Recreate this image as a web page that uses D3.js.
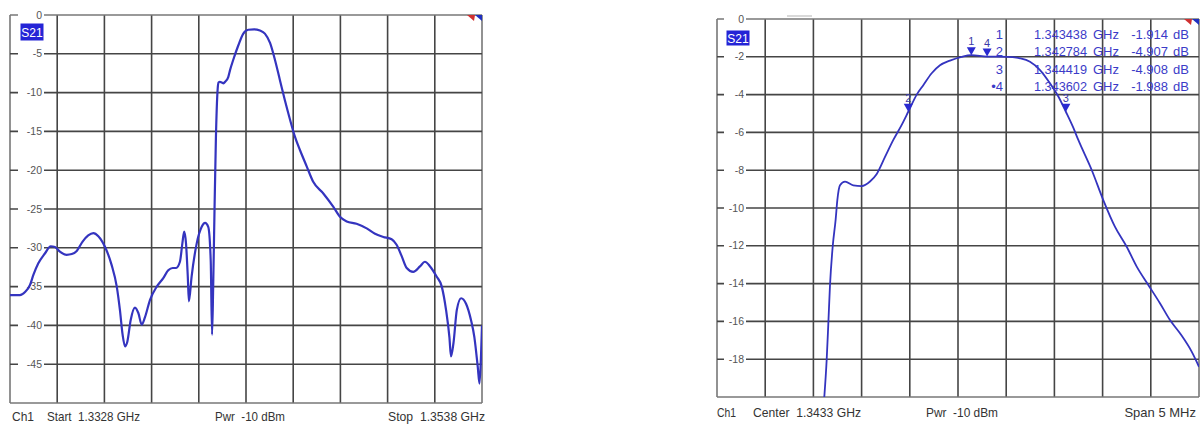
<!DOCTYPE html>
<html><head><meta charset="utf-8">
<script src="https://cdn.jsdelivr.net/npm/d3@7"></script>
<style>body{margin:0;background:#fff}svg{display:block}text{font-family:"Liberation Sans",Arial,sans-serif}</style>
</head><body><svg id="c" width="1200" height="424"></svg>
<script>
// ---------- data ----------
const leftFreqGHz = [1.33280,1.33324,1.33347,1.33369,1.33384,1.33406,1.33436,1.33461,1.33480,1.33502,1.33532,1.33555,1.33577,1.33603,1.33628,1.33651,1.33673,1.33703,1.33732,1.33755,1.33769,1.33781,1.33792,1.33802,1.33817,1.33836,1.33851,1.33866,1.33881,1.33903,1.33933,1.33962,1.33984,1.34004,1.34019,1.34036,1.34047,1.34055,1.34063,1.34071,1.34076,1.34088,1.34111,1.34133,1.34148,1.34162,1.34173,1.34179,1.34184,1.34190,1.34196,1.34204,1.34208,1.34214,1.34222,1.34230,1.34237,1.34251,1.34259,1.34273,1.34296,1.34318,1.34340,1.34366,1.34392,1.34414,1.34437,1.34459,1.34481,1.34503,1.34526,1.34548,1.34570,1.34600,1.34629,1.34674,1.34718,1.34748,1.34778,1.34822,1.34867,1.34904,1.34941,1.34978,1.35000,1.35023,1.35045,1.35074,1.35104,1.35126,1.35149,1.35178,1.35201,1.35220,1.35235,1.35242,1.35253,1.35268,1.35287,1.35309,1.35331,1.35346,1.35361,1.35369,1.35376,1.35380];
const leftS21 = [-36.1,-36.1,-35.7,-34.8,-33.5,-32.0,-30.7,-29.8,-29.9,-30.5,-30.9,-30.8,-30.4,-29.2,-28.4,-28.1,-28.5,-29.9,-32.2,-35.0,-38.0,-41.2,-42.7,-42.1,-39.3,-37.7,-38.4,-39.9,-38.9,-36.7,-35.0,-33.9,-32.9,-32.6,-32.6,-31.8,-29.4,-27.9,-29.4,-33.7,-36.9,-33.7,-29.4,-27.3,-26.8,-27.3,-31.6,-41.2,-35.0,-25.0,-16.0,-9.5,-8.7,-8.6,-8.7,-8.8,-8.6,-8.0,-7.1,-5.8,-3.9,-2.4,-1.9,-1.85,-2.0,-2.4,-3.6,-5.8,-8.4,-11.0,-13.5,-15.7,-17.4,-19.5,-21.5,-23.0,-24.7,-26.0,-26.6,-26.9,-27.5,-28.2,-28.6,-28.9,-29.6,-31.1,-32.6,-33.1,-32.4,-31.8,-32.4,-33.7,-35.0,-38.0,-41.5,-44.0,-42.3,-38.0,-36.5,-37.2,-39.3,-41.5,-45.3,-47.5,-43.6,-40.0];

const rightFreqGHz = [1.341913,1.341938,1.341955,1.341972,1.342000,1.342031,1.342048,1.342076,1.342128,1.342214,1.342301,1.342387,1.342457,1.342543,1.342629,1.342716,1.342784,1.342872,1.342940,1.343027,1.343113,1.343217,1.343338,1.343438,1.343602,1.343805,1.343943,1.344047,1.344151,1.344254,1.344341,1.344419,1.344496,1.344548,1.344687,1.344807,1.344929,1.345050,1.345154,1.345274,1.345395,1.345499,1.345603,1.345724,1.345800];
const rightS21 = [-20.0,-18.0,-16.1,-14.1,-12.05,-10.6,-9.6,-8.8,-8.6,-8.8,-8.84,-8.6,-8.2,-7.3,-6.4,-5.6,-4.907,-4.0,-3.5,-2.87,-2.45,-2.2,-2.0,-1.914,-1.988,-2.0,-2.08,-2.26,-2.7,-3.4,-4.1,-4.908,-5.75,-6.4,-7.99,-9.58,-11.0,-12.05,-13.1,-14.07,-15.04,-15.93,-16.63,-17.6,-18.4];

const markerIds = ["1","2","3","4"];
const markerFreqGHz = [1.343438,1.342784,1.344419,1.343602];
const markerS21 = [-1.914,-4.907,-4.908,-1.988];
const markerFreqText = ["1.343438","1.342784","1.344419","1.343602"];
const markerValText = ["-1.914","-4.907","-4.908","-1.988"];

const leftYTicks = [0,-5,-10,-15,-20,-25,-30,-35,-40,-45];
const rightYTicks = [0,-2,-4,-6,-8,-10,-12,-14,-16,-18];
const leftFooter = ["Ch1","Start  1.3328 GHz","Pwr  -10 dBm","Stop  1.3538 GHz"];
const rightFooter = ["Ch1","Center  1.3433 GHz","Pwr  -10 dBm","Span 5 MHz"];
const traceLabel = "S21";

// ---------- drawing ----------
const svg = d3.select("#c");
const BLUE = "#3434bf";

function panel(o){
  const g = svg.append("g");
  const x = d3.scaleLinear().domain(o.xDomain).range([o.x0,o.x1]);
  const y = d3.scaleLinear().domain(o.yDomain).range([o.y0,o.y1]);
  const xs = d3.range(11).map(i => o.xDomain[0] + i*(o.xDomain[1]-o.xDomain[0])/10);
  const ys = d3.range(11).map(i => o.yDomain[0] + i*(o.yDomain[1]-o.yDomain[0])/10);
  g.selectAll(".vg").data(xs).join("line")
    .attr("x1",d=>x(d)).attr("x2",d=>x(d)).attr("y1",o.y0).attr("y2",o.y1)
    .attr("stroke",(d,i)=> (i===0||i===10)?"#777":"#454545").attr("stroke-width",1.6);
  g.selectAll(".hg").data(ys).join("line")
    .attr("x1",o.x0).attr("x2",o.x1).attr("y1",d=>y(d)).attr("y2",d=>y(d))
    .attr("stroke",(d,i)=> (i===0||i===10)?"#777":"#454545").attr("stroke-width",1.6);
  // y tick labels with white background
  const tl = g.selectAll(".yt").data(o.yTicks).join("g");
  tl.append("rect").attr("x",o.x0+o.lblL).attr("y",d=>y(d)-6).attr("width",o.lblW).attr("height",12).attr("fill","#fff");
  tl.append("text").attr("x",o.x0+o.lblL+o.lblW-2).attr("y",d=>y(d)+3.5)
    .attr("text-anchor","end").attr("font-size",10.5).attr("fill","#555").text(d=>d===0?"0":String(d));
  // trace label
  g.append("rect").attr("x",o.s21[0]).attr("y",o.s21[1]).attr("width",23).attr("height",o.s21[2]).attr("fill","#2424d6");
  g.append("text").attr("x",o.s21[0]+11.5).attr("y",o.s21[1]+o.s21[2]/2+4.5).attr("text-anchor","middle")
    .attr("font-size",12).attr("fill","#fff").text(traceLabel);
  // corner marks
  g.append("path").attr("d",`M${o.x1-15},${o.y0} L${o.x1-7},${o.y0} L${o.x1-8},${o.y0+6} Z`).attr("fill","#d03030");
  g.append("path").attr("d",`M${o.x1-7},${o.y0} L${o.x1},${o.y0} L${o.x1},${o.y0+6} Z`).attr("fill","#2030c0");
  // clip + trace
  const id = "clip"+o.x0;
  svg.append("clipPath").attr("id",id).append("rect").attr("x",o.x0).attr("y",o.y0).attr("width",o.x1-o.x0).attr("height",o.y1-o.y0);
  const line = d3.line().x(d=>x(d[0])).y(d=>y(d[1])).curve(d3.curveMonotoneX);
  g.append("path").attr("clip-path",`url(#${id})`).datum(d3.zip(o.fx,o.fy)).attr("d",line)
    .attr("fill","none").attr("stroke",BLUE).attr("stroke-width",o.sw).attr("stroke-linejoin","round");
  // footer
  g.selectAll(".ft").data(o.footer).join("text")
    .each(function(d,i){
      const s = d3.select(this), p = o.footX[i];
      s.attr("y",o.footY).attr("font-size",13.5).attr("fill","#333").attr("xml:space","preserve").style("white-space","pre").text(d);
      if (p[2] === "end") s.attr("x",p[1]).attr("text-anchor","end").attr("font-size",13);
      else s.attr("x",p[0]).attr("textLength",p[1]-p[0]).attr("lengthAdjust","spacingAndGlyphs");
    });
  return {g,x,y};
}

panel({xDomain:[1.3328,1.3538], yDomain:[0,-50], x0:10, x1:482, y0:15, y1:403,
  yTicks:leftYTicks, lblL:8, lblW:26, s21:[20.5,23.5,17], fx:leftFreqGHz, fy:leftS21, sw:2.2,
  footer:leftFooter, footX:[[12,34],[47,140],[215,285],[388,485]], footY:421});

const R = panel({xDomain:[1.3408,1.3458], yDomain:[0,-20], x0:717, x1:1199, y0:19, y1:397,
  yTicks:rightYTicks, lblL:7, lblW:22, s21:[726.5,30.5,15], fx:rightFreqGHz, fy:rightS21, sw:1.8,
  footer:rightFooter, footX:[[717,736],[753,861],[926,998],[1128,1196,"end"]], footY:417});

svg.append("line").attr("x1",787).attr("x2",812).attr("y1",16).attr("y2",16).attr("stroke","#ccc").attr("stroke-width",1.5);

// markers
const mk = d3.zip(markerIds,markerFreqGHz,markerS21);
R.g.selectAll(".mt").data(mk).join("path")
  .attr("d",d=>{const px=R.x(d[1]), py=R.y(d[2]); return `M${px-4.5},${py-8} L${px+4.5},${py-8} L${px},${py} Z`;})
  .attr("fill","#2a2ad0");
R.g.selectAll(".ml").data(mk).join("text")
  .attr("x",d=>R.x(d[1])).attr("y",d=>R.y(d[2])-10).attr("text-anchor","middle")
  .attr("font-size",11).attr("fill","#3a3aa8").text(d=>d[0]);

// marker table
const rows = d3.range(markerIds.length);
const rowY = i => 38.5 + i*17.5;
const tg = R.g.append("g").attr("fill","#3b3bc8").attr("font-size",13);
tg.selectAll(".n").data(rows).join("text").attr("x",1003).attr("y",rowY).attr("text-anchor","end")
  .text(i => (i===3?"•":"") + markerIds[i]);
tg.selectAll(".f").data(rows).join("text").attr("x",1034).attr("y",rowY)
  .attr("textLength",53).attr("lengthAdjust","spacingAndGlyphs").text(i=>markerFreqText[i]);
tg.selectAll(".u").data(rows).join("text").attr("x",1093).attr("y",rowY).text("GHz");
tg.selectAll(".v").data(rows).join("text").attr("x",1168).attr("y",rowY).attr("text-anchor","end").text(i=>markerValText[i]);
tg.selectAll(".d").data(rows).join("text").attr("x",1173).attr("y",rowY).text("dB");
</script></body></html>
